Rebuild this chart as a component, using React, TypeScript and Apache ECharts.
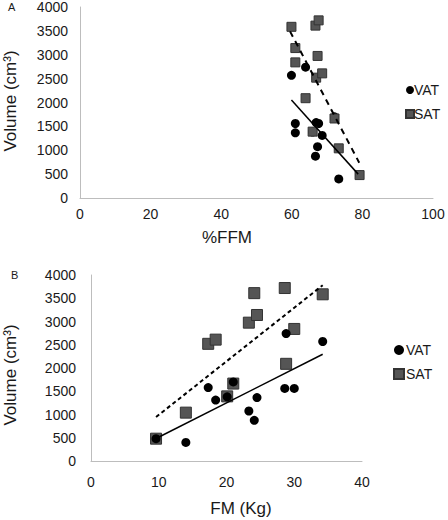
import React, { useEffect, useRef } from "react";
import * as echarts from "echarts";

// Per-subject values
const ffm = [79.2, 73.3, 66.9, 68.6, 65.9, 72.1, 67.3, 66.7, 61.0, 67.6, 61.0, 63.9, 59.9];
const fm = [9.6, 14.0, 17.3, 18.4, 20.1, 21.0, 23.3, 24.1, 24.5, 28.6, 30.0, 28.8, 34.2];
const vat = [480, 400, 1580, 1310, 1380, 1700, 1075, 875, 1365, 1560, 1560, 2740, 2570];
const sat = [480, 1040, 2520, 2610, 1390, 1665, 2975, 3610, 3140, 3720, 2840, 2090, 3585];

// Trend line end points
const trendAVat = [[59.9, 2050], [78.8, 500]];
const trendASat = [[59.5, 3490], [79.1, 740]];
const trendBVat = [[9.6, 483], [34.2, 2295]];
const trendBSat = [[9.6, 945], [34.2, 3780]];

const xTicksA = [0, 20, 40, 60, 80, 100];
const xTicksB = [0, 10, 20, 30, 40];
const yTicks = [0, 500, 1000, 1500, 2000, 2500, 3000, 3500, 4000];

const FONT = "'Liberation Sans', Arial, sans-serif";
const SQ_FILL = "#555555";
const SQ_BORDER = "#333333";
const TXT = "#1a1a1a";
const AXIS = "#bdbdbd";

export default function App() {
  const ref = useRef<HTMLDivElement>(null);
  useEffect(() => {
    document.body.style.margin = "0";
    const chart = echarts.init(ref.current!, null, { renderer: "svg" });
    const axisLabel = { fontFamily: FONT, fontSize: 14, color: TXT, formatter: (v: number) => String(v) };
    const xAxisBase = {
      type: "value",
      axisLine: { show: true, lineStyle: { color: AXIS, width: 1 } },
      axisTick: { show: false },
      splitLine: { show: false },
    };
    const yAxisBase = {
      type: "value",
      min: yTicks[0],
      max: yTicks[yTicks.length - 1],
      interval: yTicks[1] - yTicks[0],
      axisLine: { show: true, lineStyle: { color: AXIS, width: 1 } },
      axisTick: { show: false },
      splitLine: { show: false },
    };
    chart.setOption({
      animation: false,
      grid: [
        { left: 80, top: 7, width: 353, height: 191 },
        { left: 91, top: 275, width: 271, height: 186 },
      ],
      xAxis: [
        {
          ...xAxisBase,
          gridIndex: 0,
          min: xTicksA[0],
          max: xTicksA[xTicksA.length - 1],
          interval: xTicksA[1] - xTicksA[0],
          axisLabel: { ...axisLabel, margin: 9 },
        },
        {
          ...xAxisBase,
          gridIndex: 1,
          min: xTicksB[0],
          max: xTicksB[xTicksB.length - 1],
          interval: xTicksB[1] - xTicksB[0],
          axisLabel: { ...axisLabel, margin: 14 },
        },
      ],
      yAxis: [
        { ...yAxisBase, gridIndex: 0, axisLabel: { ...axisLabel, margin: 12 } },
        { ...yAxisBase, gridIndex: 1, axisLabel: { ...axisLabel, margin: 15 } },
      ],
      legend: [
        {
          orient: "vertical",
          left: 400,
          top: 78,
          padding: 5,
          itemGap: 10,
          itemWidth: 8,
          itemHeight: 8,
          textStyle: { fontFamily: FONT, fontSize: 14, color: TXT, padding: [0, 0, 0, -5] },
          data: [{ name: "VAT", icon: "circle" }, { name: "SAT", icon: "rect" }],
        },
        {
          orient: "vertical",
          left: 388,
          top: 338,
          padding: 5,
          itemGap: 10,
          itemWidth: 10,
          itemHeight: 10,
          textStyle: { fontFamily: FONT, fontSize: 14, color: TXT, padding: [0, 0, 0, -3] },
          data: [{ name: "VAT", icon: "circle" }, { name: "SAT", icon: "rect" }],
        },
      ],
      series: [
        {
          name: "VAT",
          type: "scatter",
          xAxisIndex: 0,
          yAxisIndex: 0,
          symbol: "circle",
          symbolSize: 9,
          z: 2,
          itemStyle: { color: "#000", opacity: 1 },
          data: ffm.map((x, i) => [x, vat[i]]),
        },
        {
          name: "SAT",
          type: "scatter",
          xAxisIndex: 0,
          yAxisIndex: 0,
          symbol: "rect",
          symbolSize: 9,
          z: 3,
          itemStyle: { color: SQ_FILL, borderColor: SQ_BORDER, borderWidth: 1, opacity: 1 },
          data: ffm.map((x, i) => [x, sat[i]]),
        },
        {
          type: "line",
          xAxisIndex: 0,
          yAxisIndex: 0,
          symbol: "none",
          z: 4,
          lineStyle: { color: "#000", width: 1.5 },
          data: trendAVat,
        },
        {
          type: "line",
          xAxisIndex: 0,
          yAxisIndex: 0,
          symbol: "none",
          z: 4,
          lineStyle: { color: "#000", width: 2, type: [6, 5] },
          data: trendASat,
        },
        {
          name: "SAT",
          type: "scatter",
          xAxisIndex: 1,
          yAxisIndex: 1,
          symbol: "rect",
          symbolSize: 11,
          z: 2,
          itemStyle: { color: SQ_FILL, borderColor: SQ_BORDER, borderWidth: 1, opacity: 1 },
          data: fm.map((x, i) => [x, sat[i]]),
        },
        {
          name: "VAT",
          type: "scatter",
          xAxisIndex: 1,
          yAxisIndex: 1,
          symbol: "circle",
          symbolSize: 9,
          z: 3,
          itemStyle: { color: "#000", opacity: 1 },
          data: fm.map((x, i) => [x, vat[i]]),
        },
        {
          type: "line",
          xAxisIndex: 1,
          yAxisIndex: 1,
          symbol: "none",
          z: 4,
          lineStyle: { color: "#000", width: 1.5 },
          data: trendBVat,
        },
        {
          type: "line",
          xAxisIndex: 1,
          yAxisIndex: 1,
          symbol: "none",
          z: 4,
          lineStyle: { color: "#000", width: 2, type: [4, 3] },
          data: trendBSat,
        },
      ],
      graphic: [
        { type: "text", left: 8, top: 1, style: { text: "A", fontFamily: FONT, fontSize: 11, fill: TXT } },
        { type: "text", left: 11, top: 269, style: { text: "B", fontFamily: FONT, fontSize: 11, fill: TXT } },
        {
          type: "text",
          x: 10,
          y: 101,
          rotation: Math.PI / 2,
          style: { text: "Volume (cm³)", fontFamily: FONT, fontSize: 17, fill: TXT, align: "center", verticalAlign: "middle" },
        },
        {
          type: "text",
          x: 10,
          y: 375,
          rotation: Math.PI / 2,
          style: { text: "Volume (cm³)", fontFamily: FONT, fontSize: 17, fill: TXT, align: "center", verticalAlign: "middle" },
        },
        {
          type: "text",
          x: 227,
          y: 237,
          style: { text: "%FFM", fontFamily: FONT, fontSize: 17, fill: TXT, align: "center", verticalAlign: "middle" },
        },
        {
          type: "text",
          x: 241,
          y: 508,
          style: { text: "FM (Kg)", fontFamily: FONT, fontSize: 17, fill: TXT, align: "center", verticalAlign: "middle" },
        },
      ],
    });
    return () => chart.dispose();
  }, []);
  return <div ref={ref} style={{ width: 448, height: 520 }} />;
}
